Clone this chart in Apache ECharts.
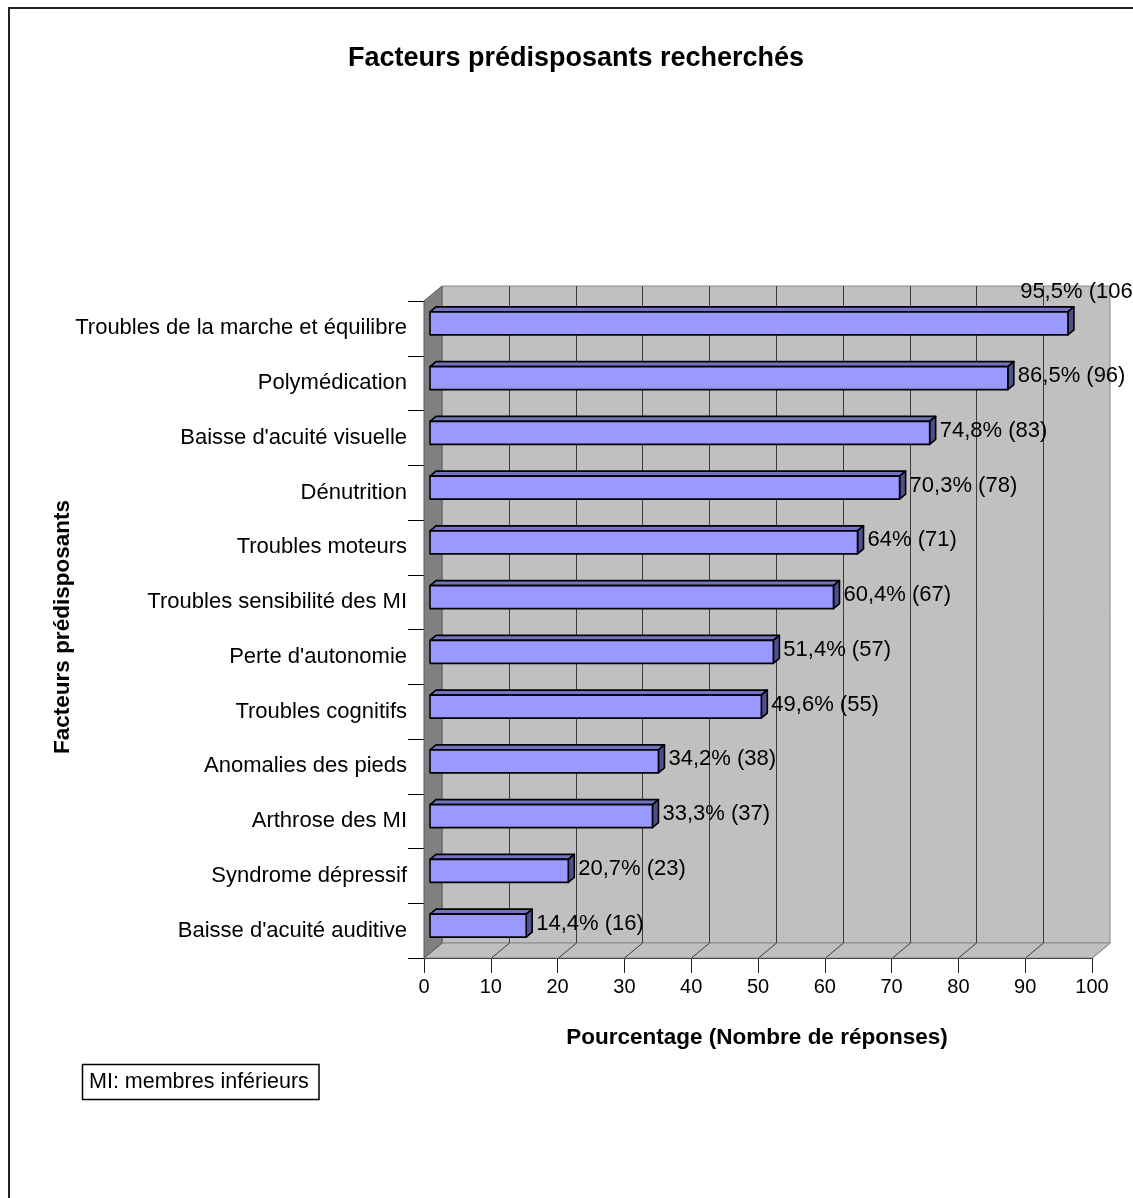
<!DOCTYPE html>
<html>
<head>
<meta charset="utf-8">
<title>Facteurs prédisposants recherchés</title>
<script src="https://cdn.jsdelivr.net/npm/echarts@6/dist/echarts.min.js"></script>
<style>
  html, body { margin: 0; padding: 0; background: #ffffff; }
  #chart { width: 1133px; height: 1198px; }
</style>
</head>
<body>
<div id="chart"></div>
<script>
// ---- Data -------------------------------------------------------------
const categories = [
  'Troubles de la marche et équilibre',
  'Polymédication',
  "Baisse d'acuité visuelle",
  'Dénutrition',
  'Troubles moteurs',
  'Troubles sensibilité des MI',
  "Perte d'autonomie",
  'Troubles cognitifs',
  'Anomalies des pieds',
  'Arthrose des MI',
  'Syndrome dépressif',
  "Baisse d'acuité auditive"
];
const percents = [95.5, 86.5, 74.8, 70.3, 64, 60.4, 51.4, 49.6, 34.2, 33.3, 20.7, 14.4];
const counts   = [106, 96, 83, 78, 71, 67, 57, 55, 38, 37, 23, 16];
const xTicks   = [0, 10, 20, 30, 40, 50, 60, 70, 80, 90, 100];

const titleText  = 'Facteurs prédisposants recherchés';
const xTitleText = 'Pourcentage (Nombre de réponses)';
const yTitleText = 'Facteurs prédisposants';
const noteText   = 'MI: membres inférieurs';

// ---- Look -------------------------------------------------------------
const FONT = "'Liberation Sans', Arial, Helvetica, sans-serif";
const DX = 18, DY = -15;          // depth offset of the back wall
const BAR_FRAC = 0.42;            // bar thickness as share of a band
const GRID_COLOR = '#3a3a3a';
const EDGE_COLOR = '#8a8a8a';
const LABEL_FONT = '22px ' + FONT;

const measureCtx = document.createElement('canvas').getContext('2d');
function textWidth(str, font) {
  measureCtx.font = font;
  return measureCtx.measureText(str).width;
}
function labelText(i) {
  return String(percents[i]).replace('.', ',') + '% (' + counts[i] + ')';
}

// Walls, floor and gridlines of the 3D box
function renderWalls(params, api) {
  const cs = params.coordSys;
  const x0 = cs.x, x1 = cs.x + cs.width, y0 = cs.y, y1 = cs.y + cs.height;
  const children = [];
  children.push({ type: 'polygon', shape: { points: [[x0 + DX, y0 + DY], [x1 + DX, y0 + DY], [x1 + DX, y1 + DY], [x0 + DX, y1 + DY]] },
    style: { fill: '#c0c0c0', stroke: EDGE_COLOR, lineWidth: 1 } });
  children.push({ type: 'polygon', shape: { points: [[x0, y1], [x0 + DX, y1 + DY], [x1 + DX, y1 + DY], [x1, y1]] },
    style: { fill: '#c0c0c0', stroke: EDGE_COLOR, lineWidth: 1 } });
  xTicks.forEach(function (v, k) {
    const px = Math.round(api.coord([v, 0])[0]) + 0.5;
    const edge = (k === 0 || k === xTicks.length - 1);
    if (!edge) {
      children.push({ type: 'line', shape: { x1: px + DX, y1: y0 + DY, x2: px + DX, y2: y1 + DY },
        style: { stroke: GRID_COLOR, lineWidth: 1 } });
    }
    children.push({ type: 'line', shape: { x1: px, y1: y1, x2: px + DX, y2: y1 + DY },
      style: { stroke: edge ? EDGE_COLOR : GRID_COLOR, lineWidth: 1 } });
  });
  children.push({ type: 'polygon', shape: { points: [[x0, y0], [x0 + DX, y0 + DY], [x0 + DX, y1 + DY], [x0, y1]] },
    style: { fill: '#808080', stroke: '#5a5a5a', lineWidth: 1 } });
  return { type: 'group', children: children };
}

// One 3D bar (front, top and side faces) plus its value label
function renderBar(params, api) {
  const v = api.value(0), idx = api.value(1);
  const start = api.coord([0, idx]);
  const end = api.coord([v, idx]);
  const band = api.size([0, 1])[1];
  const h = band * BAR_FRAC;
  const fx = DX / 3, fy = DY / 3;   // front face sits one third deep
  const bx = DX / 3, by = DY / 3;   // bar depth is one third of the box
  const xl = start[0] + fx, xr = end[0] + fx;
  const cy = start[1] + fy;
  const yt = cy - h / 2, yb = cy + h / 2;
  const stroke = { stroke: '#000000', lineWidth: 1.6, lineJoin: 'round' };

  const text = labelText(params.dataIndex);
  let lx = xr + 10, ly = cy - 2, align = 'left';
  if (lx + textWidth(text, LABEL_FONT) > api.getWidth() + 10) {
    // no room on the right: lift the label above the bar, flush to the edge
    lx = api.getWidth() + 7; ly = yt - 20; align = 'right';
  }
  return {
    type: 'group',
    children: [
      { type: 'polygon', shape: { points: [[xl, yt], [xl + bx, yt + by], [xr + bx, yt + by], [xr, yt]] },
        style: Object.assign({ fill: '#7373c4' }, stroke) },
      { type: 'polygon', shape: { points: [[xr, yt], [xr + bx, yt + by], [xr + bx, yb + by], [xr, yb]] },
        style: Object.assign({ fill: '#4f4f8a' }, stroke) },
      { type: 'rect', shape: { x: xl, y: yt, width: xr - xl, height: h },
        style: Object.assign({ fill: '#9999ff' }, stroke) },
      { type: 'text', style: { text: text, x: lx, y: ly, font: LABEL_FONT, fill: '#000000',
        align: align, verticalAlign: 'middle', textAlign: align, textVerticalAlign: 'middle' } }
    ]
  };
}

const chart = echarts.init(document.getElementById('chart'), null, { renderer: 'canvas' });
chart.setOption({
  animation: false,
  backgroundColor: '#ffffff',
  textStyle: { fontFamily: FONT },
  grid: { left: 424, top: 301, width: 668, height: 657, containLabel: false },
  xAxis: {
    type: 'value', min: 0, max: 100, interval: 10,
    axisLine: { show: true, lineStyle: { color: '#000000', width: 1 } },
    axisTick: { show: true, length: 15, lineStyle: { color: '#222222' } },
    axisLabel: { fontSize: 20, color: '#000000', margin: 19, fontFamily: FONT },
    splitLine: { show: false }
  },
  yAxis: {
    type: 'category', data: categories, inverse: true,
    axisLine: { show: true, lineStyle: { color: '#444444', width: 1 } },
    axisTick: { show: true, length: 16, lineStyle: { color: '#000000' } },
    axisLabel: { fontSize: 22, color: '#000000', margin: 17, fontFamily: FONT },
    splitLine: { show: false }
  },
  series: [
    { type: 'custom', name: 'walls', renderItem: renderWalls, data: [[0, 0]], z: 1, silent: true },
    { type: 'custom', name: 'Pourcentage', renderItem: renderBar, z: 3,
      encode: { x: 0, y: 1 },
      data: percents.map(function (p, i) { return [p, i]; }) }
  ],
  graphic: [
    { type: 'rect', shape: { x: 9, y: 8, width: 1300, height: 1400 }, style: { fill: 'none', stroke: '#222222', lineWidth: 2 }, z: 10 },
    { type: 'text', x: 576, y: 59, style: { text: titleText, font: 'bold 27px ' + FONT, fill: '#000000', align: 'center', verticalAlign: 'middle' } },
    { type: 'text', x: 757, y: 1038, style: { text: xTitleText, font: 'bold 22.5px ' + FONT, fill: '#000000', align: 'center', verticalAlign: 'middle' } },
    { type: 'text', x: 63, y: 627, rotation: Math.PI / 2, style: { text: yTitleText, font: 'bold 22.5px ' + FONT, fill: '#000000', align: 'center', verticalAlign: 'middle' } },
    { type: 'rect', shape: { x: 82.5, y: 1064.5, width: 236.5, height: 35 }, style: { fill: '#ffffff', stroke: '#000000', lineWidth: 1.5 } },
    { type: 'text', x: 89, y: 1082, style: { text: noteText, font: '21.5px ' + FONT, fill: '#000000', align: 'left', verticalAlign: 'middle' } }
  ]
});
</script>
</body>
</html>
